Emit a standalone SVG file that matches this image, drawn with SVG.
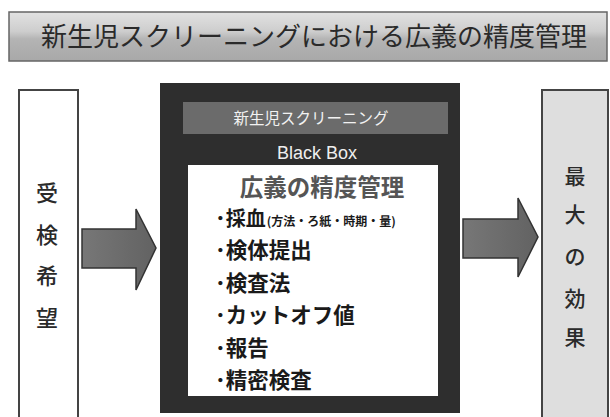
<svg xmlns="http://www.w3.org/2000/svg" width="610" height="417" viewBox="0 0 610 417">
<defs>
<linearGradient id="titleGrad" x1="0" y1="0" x2="0" y2="1">
<stop offset="0" stop-color="#e2e2e2"/>
<stop offset="0.4" stop-color="#cdcdcd"/>
<stop offset="0.55" stop-color="#b4b4b4"/>
<stop offset="1" stop-color="#a8a8a8"/>
</linearGradient>
<linearGradient id="arrowGrad" x1="0" y1="0" x2="1" y2="0">
<stop offset="0" stop-color="#777"/>
<stop offset="1" stop-color="#626262"/>
</linearGradient>
</defs>
<style>
.jp{font-family:"Noto Sans CJK JP","Noto Sans CJK SC",sans-serif;}
.side{font-size:22px;fill:#2a2a2a;text-anchor:middle;font-weight:500;}
.sideR{font-size:21px;fill:#2a2a2a;text-anchor:middle;font-weight:500;}
.item{font-size:21.5px;font-weight:bold;fill:#1a1a1a;}
.arrow{fill:url(#arrowGrad);stroke:#333;stroke-width:1.5;}
</style>
<rect x="0" y="0" width="610" height="417" fill="#fff"/>
<g id="title">
<rect x="9" y="12" width="598" height="49" fill="url(#titleGrad)" stroke="#666" stroke-width="1.5"/>
<text class="jp" x="314" y="46" font-size="26" fill="#2a2a2a" text-anchor="middle">新生児スクリーニングにおける広義の精度管理</text>
</g>
<g id="left-box">
<rect x="19" y="90" width="59" height="340" fill="#fff" stroke="#444" stroke-width="2"/>
<text class="jp side" x="47" y="201">受</text>
<text class="jp side" x="47" y="243">検</text>
<text class="jp side" x="47" y="284">希</text>
<text class="jp side" x="47" y="326">望</text>
</g>
<g id="black-box">
<rect x="160" y="83" width="300" height="330" fill="#2e2e2e"/>
<rect x="183" y="102" width="265" height="32" fill="#6b6b6b"/>
<text class="jp" x="311" y="124" font-size="15.5" fill="#f2f2f2" text-anchor="middle">新生児スクリーニング</text>
<text x="317" y="159" font-family="Liberation Sans, Arial, sans-serif" font-size="18" fill="#eee" text-anchor="middle">Black Box</text>
<rect x="188" y="165" width="250" height="231" fill="#fff"/>
<text class="jp" x="322" y="196" font-size="23.5" font-weight="bold" fill="#555" text-anchor="middle">広義の精度管理</text>
<text class="jp item" x="215" y="226">･<tspan font-size="20">採血</tspan><tspan font-size="12" dx="1">(方法・ろ紙・時期・量)</tspan></text>
<text class="jp item" x="215" y="258">･検体提出</text>
<text class="jp item" x="215" y="291">･検査法</text>
<text class="jp item" x="215" y="323">･カットオフ値</text>
<text class="jp item" x="215" y="356">･報告</text>
<text class="jp item" x="215" y="388">･精密検査</text>
</g>
<g id="right-box">
<rect x="542" y="90" width="66" height="340" fill="#dedede" stroke="#444" stroke-width="2"/>
<text class="jp sideR" x="575" y="184">最</text>
<text class="jp sideR" x="575" y="222">大</text>
<text class="jp sideR" x="575" y="264">の</text>
<text class="jp sideR" x="575" y="306">効</text>
<text class="jp sideR" x="575" y="345">果</text>
</g>
<g id="connectors">
<polygon class="arrow" points="82,229 136,229 136,209 156,248 136,290 136,268 82,268"/>
<polygon class="arrow" points="463,219 518,219 518,198 538,237 518,277 518,258 463,258"/>
</g>
</svg>
